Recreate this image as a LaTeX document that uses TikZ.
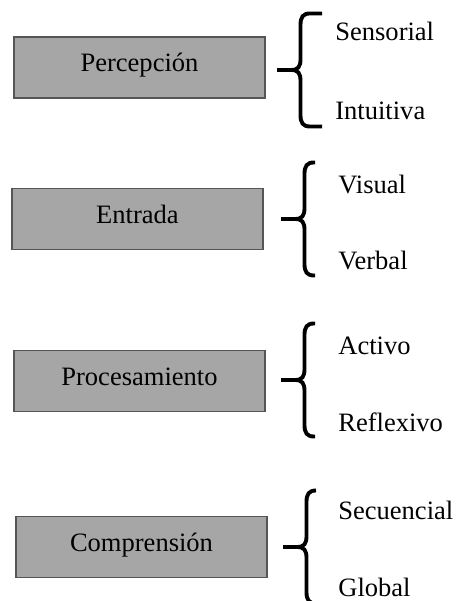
\documentclass[tikz,border=0pt]{standalone}
\usepackage{fontspec}
\setmainfont{Liberation Serif}
\definecolor{relleno}{HTML}{A6A6A6}
\definecolor{borde}{HTML}{555555}
\tikzset{
  caja/.style={draw=borde, fill=relleno, line width=0.9pt, minimum width=5.02cm, minimum height=1.22cm, inner sep=0pt, text height=0.68em, text depth=0.22em},
  opcion/.style={anchor=base west, inner sep=0pt},
  pics/llave/.style={code={
    \draw[line width=2.2pt] (#1,1.13) -- (0.66,1.13) .. controls (0.52,1.13) and (0.47,1.06) .. (0.47,0.9) -- (0.47,0.22) .. controls (0.47,0.06) and (0.42,0) .. (0.28,0) -- (0,0);
    \draw[line width=2.2pt] (#1,-1.13) -- (0.66,-1.13) .. controls (0.52,-1.13) and (0.47,-1.06) .. (0.47,-0.9) -- (0.47,-0.22) .. controls (0.47,-0.06) and (0.42,0) .. (0.28,0) -- (0,0);
  }}
}
\begin{document}
\begin{tikzpicture}[font=\fontsize{15.1}{18}\selectfont]
        % Frame
        \clip (0,0) rectangle (9.12,12.02);

        % Boxes
        \node[caja] (percepcion) at (2.79,10.67) {Percepción};
        \node[caja] (entrada) at (2.75,7.64) {Entrada};
        \node[caja] (procesamiento) at (2.79,4.40) {Procesamiento};
        \node[caja] (comprension) at (2.83,1.08) {Comprensión};

        % Braces
        \pic at (5.54,10.62) {llave=0.9};
        \pic at (5.62,7.64) {llave=0.68};
        \pic at (5.62,4.42) {llave=0.68};
        \pic at (5.66,1.08) {llave=0.66};

        % Labels
        \node[opcion] (sensorial) at (6.70,11.20) {Sensorial};
        \node[opcion] (intuitiva) at (6.70,9.62) {Intuitiva};
        \node[opcion] (visual) at (6.76,8.14) {Visual};
        \node[opcion] (verbal) at (6.76,6.62) {Verbal};
        \node[opcion] (activo) at (6.76,4.92) {Activo};
        \node[opcion] (reflexivo) at (6.76,3.38) {Reflexivo};
        \node[opcion] (secuencial) at (6.76,1.62) {Secuencial};
        \node[opcion] (global) at (6.76,0.08) {Global};
\end{tikzpicture}
\end{document}
